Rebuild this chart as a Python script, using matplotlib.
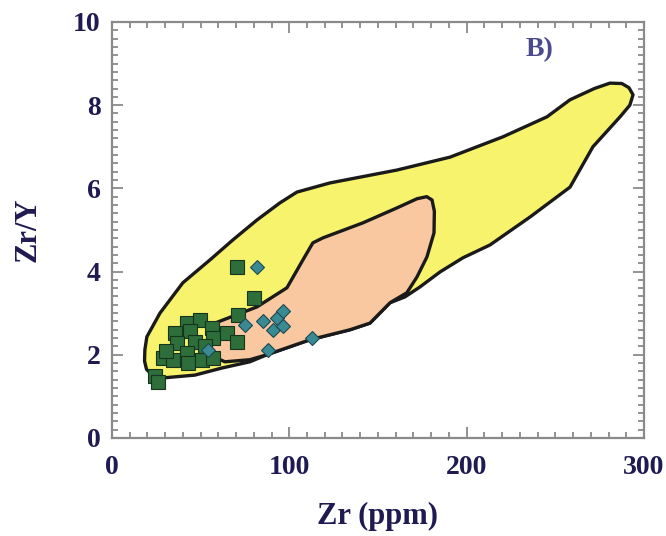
import matplotlib
matplotlib.use("Agg")
import matplotlib.pyplot as plt
from matplotlib.patches import Polygon
from matplotlib.ticker import MultipleLocator

# ---- data ----
yellow_x = [18.6, 19.7, 27.1, 40.0, 55.3, 68.2, 81.8, 94.7, 104.3, 122.9, 160.7, 190.6,
            220.5, 245.3, 258.3, 272.0, 280.8, 287.5, 291.5, 293.8, 292.0, 286.5, 271.2,
            258.3, 235.7, 213.2, 197.9, 185.0, 173.7, 165.2, 156.8, 145.5, 134.2, 111.7,
            87.4, 77.8, 62.0, 46.8, 28.2, 22.6, 19.5, 18.4]
yellow_y = [2.12, 2.43, 3.00, 3.73, 4.28, 4.76, 5.24, 5.65, 5.91, 6.13, 6.44, 6.75,
            7.24, 7.72, 8.13, 8.40, 8.53, 8.52, 8.42, 8.25, 8.00, 7.72, 7.00,
            6.03, 5.31, 4.64, 4.33, 3.99, 3.63, 3.39, 3.25, 2.76, 2.60, 2.36,
            2.00, 1.83, 1.68, 1.51, 1.44, 1.52, 1.65, 1.85]

salmon_x = [58.1, 81.8, 98.7, 107.7, 113.3, 119.0, 141.5, 160.7, 172.0, 177.5, 180.5,
            181.8, 181.6, 177.6, 172.0, 166.3, 156.8, 145.5, 134.2, 111.7, 87.4, 77.8,
            63.7, 57.5, 56.0, 56.4]
salmon_y = [2.76, 3.15, 3.61, 4.28, 4.69, 4.81, 5.17, 5.53, 5.75, 5.80, 5.72,
            5.45, 4.93, 4.35, 3.87, 3.49, 3.25, 2.76, 2.60, 2.36, 2.00, 1.88,
            1.83, 1.95, 2.15, 2.48]

sq_x = [70.3, 80.2, 71.2, 42.1, 49.6, 56.2, 35.5, 44.0, 36.5, 46.8, 57.1, 64.7, 70.3,
        28.9, 34.6, 42.1, 43.0, 50.6, 57.1, 24.2, 25.9, 52.4, 30.5]
sq_y = [4.12, 3.37, 2.96, 2.76, 2.84, 2.64, 2.52, 2.56, 2.28, 2.31, 2.40, 2.52, 2.31,
        1.92, 1.88, 2.04, 1.80, 1.88, 1.92, 1.49, 1.35, 2.22, 2.10]

dm_x = [81.9, 75.0, 85.3, 92.9, 96.6, 91.0, 96.6, 112.6, 88.1, 54.3]
dm_y = [4.10, 2.72, 2.80, 2.88, 3.04, 2.60, 2.68, 2.40, 2.12, 2.12]

xticks = [0, 100, 200, 300]
yticks = [0, 2, 4, 6, 8, 10]

# ---- figure ----
fig = plt.figure(figsize=(6.66, 5.36), dpi=100)
ax = fig.add_axes([0.168, 0.183, 0.799, 0.776])

navy = "#1f1b52"
font = ["Liberation Serif", "DejaVu Serif"]

ax.add_patch(Polygon(list(zip(yellow_x, yellow_y)), closed=True, facecolor="#f8f36c",
                     edgecolor="#1a1a1a", linewidth=2.4, joinstyle="round", zorder=1))
ax.add_patch(Polygon(list(zip(salmon_x, salmon_y)), closed=True, facecolor="#f9c8a0",
                     edgecolor="#1a1a1a", linewidth=2.4, joinstyle="round", zorder=2))

ax.plot(sq_x, sq_y, linestyle="none", marker="s", markersize=10,
        markerfacecolor="#2d6e3a", markeredgecolor="#17351d", markeredgewidth=0.8, zorder=3)
ax.plot(dm_x, dm_y, linestyle="none", marker="D", markersize=7,
        markerfacecolor="#3a8a94", markeredgecolor="#1d4852", markeredgewidth=0.8, zorder=4)

ax.set_xlim(0, 300)
ax.set_ylim(0, 10)
ax.set_xticks(xticks)
ax.set_yticks(yticks)
ax.xaxis.set_minor_locator(MultipleLocator(10))
ax.yaxis.set_minor_locator(MultipleLocator(0.2))

gray = "#8a8a8a"
for s in ax.spines.values():
    s.set_color(gray)
    s.set_linewidth(1.6)
ax.tick_params(which="both", direction="in", top=True, right=True, color=gray, width=1.3)
ax.tick_params(which="major", length=8)
ax.tick_params(which="minor", length=4)
ax.tick_params(axis="x", which="major", pad=12)
ax.tick_params(axis="y", which="major", pad=8)

for lab in ax.get_xticklabels() + ax.get_yticklabels():
    lab.set_fontfamily(font)
    lab.set_fontweight("bold")
    lab.set_fontsize(20)
    lab.set_color(navy)

ax.set_xlabel("Zr (ppm)", fontfamily=font, fontweight="bold", fontsize=22, color=navy, labelpad=16)
ax.set_ylabel("Zr/Y", fontfamily=font, fontweight="bold", fontsize=22, color=navy, labelpad=22)

ax.text(241, 9.33, "B)", fontfamily=font, fontweight="bold", fontsize=20, color="#4b4a8e",
        ha="center", va="center")

fig.savefig("out.png", dpi=100)
